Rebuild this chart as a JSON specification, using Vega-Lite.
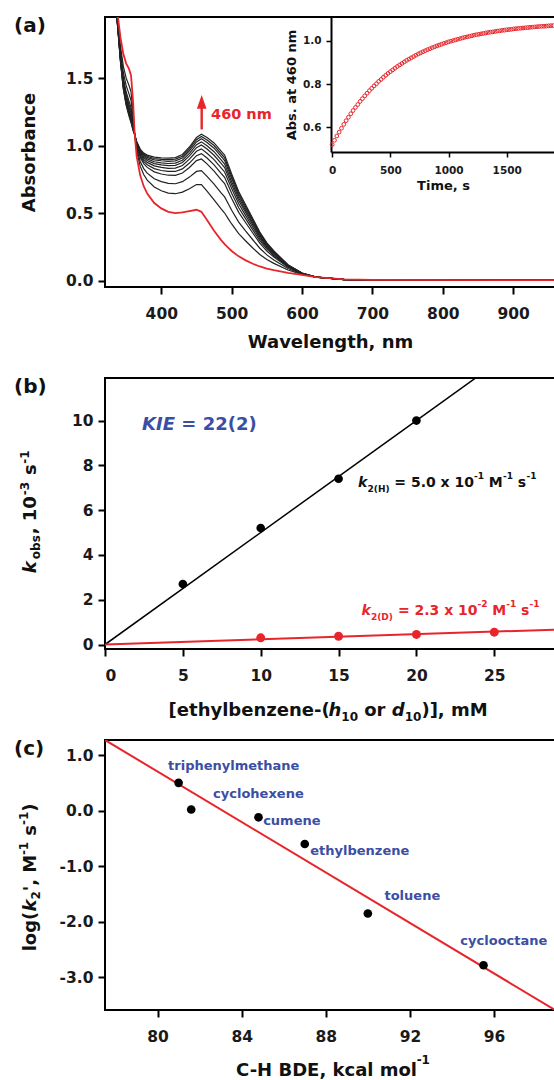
{
"$schema":"https://vega.github.io/schema/vega-lite/v6.json",
"padding":{"left":13,"top":15,"right":0,"bottom":0},
"background":"white",
"config":{
 "font":"DejaVu Sans",
 "view":{"stroke":"#000","strokeWidth":2},
 "axis":{"domain":false,"grid":false,"ticks":true,"tickColor":"#000","tickWidth":2,"tickSize":7,"labelFont":"DejaVu Sans","labelFontWeight":"bold","labelFontSize":15.5,"labelColor":"#1a1a1a","titleFont":"DejaVu Sans","titleFontWeight":"bold","titleFontSize":18,"titleColor":"#111"},
 "axisX":{"labelPadding":12},
 "axisY":{"labelPadding":5},
 "title":{"anchor":"start","frame":"group","orient":"top","baseline":"top","offset":0,"dx":-91,"dy":23,"fontSize":20,"fontWeight":"bold","font":"DejaVu Sans","color":"#111"},
 "text":{"font":"DejaVu Sans","fontWeight":"bold"}
},
"datasets":{
"spectra":[
{"s":"s0","w":334,"a":2.15},{"s":"s0","w":338,"a":1.97},{"s":"s0","w":342,"a":1.80},{"s":"s0","w":346,"a":1.68},{"s":"s0","w":350,"a":1.61},{"s":"s0","w":354,"a":1.57},{"s":"s0","w":357,"a":1.52},{"s":"s0","w":360,"a":1.32},{"s":"s0","w":362,"a":1.10},{"s":"s0","w":365,"a":0.92},{"s":"s0","w":370,"a":0.78},{"s":"s0","w":375,"a":0.70},{"s":"s0","w":380,"a":0.645},{"s":"s0","w":390,"a":0.575},{"s":"s0","w":400,"a":0.535},{"s":"s0","w":410,"a":0.51},{"s":"s0","w":420,"a":0.50},{"s":"s0","w":430,"a":0.505},{"s":"s0","w":440,"a":0.515},{"s":"s0","w":450,"a":0.525},{"s":"s0","w":457,"a":0.51},{"s":"s0","w":465,"a":0.45},{"s":"s0","w":475,"a":0.37},{"s":"s0","w":485,"a":0.30},{"s":"s0","w":490,"a":0.27},{"s":"s0","w":495,"a":0.245},{"s":"s0","w":500,"a":0.22},{"s":"s0","w":510,"a":0.18},{"s":"s0","w":520,"a":0.15},{"s":"s0","w":530,"a":0.125},{"s":"s0","w":540,"a":0.105},{"s":"s0","w":550,"a":0.09},{"s":"s0","w":560,"a":0.078},{"s":"s0","w":580,"a":0.058},{"s":"s0","w":600,"a":0.042},{"s":"s0","w":620,"a":0.026},{"s":"s0","w":660,"a":0.010},{"s":"s0","w":700,"a":0.006},{"s":"s0","w":960,"a":0.004},
{"s":"s1","w":334,"a":2.133},{"s":"s1","w":338,"a":1.939},{"s":"s1","w":342,"a":1.737},{"s":"s1","w":346,"a":1.589},{"s":"s1","w":350,"a":1.502},{"s":"s1","w":354,"a":1.448},{"s":"s1","w":357,"a":1.398},{"s":"s1","w":360,"a":1.247},{"s":"s1","w":362,"a":1.095},{"s":"s1","w":365,"a":0.959},{"s":"s1","w":370,"a":0.848},{"s":"s1","w":375,"a":0.786},{"s":"s1","w":380,"a":0.745},{"s":"s1","w":390,"a":0.694},{"s":"s1","w":400,"a":0.666},{"s":"s1","w":410,"a":0.649},{"s":"s1","w":420,"a":0.644},{"s":"s1","w":430,"a":0.656},{"s":"s1","w":440,"a":0.681},{"s":"s1","w":450,"a":0.712},{"s":"s1","w":457,"a":0.711},{"s":"s1","w":465,"a":0.664},{"s":"s1","w":475,"a":0.598},{"s":"s1","w":485,"a":0.531},{"s":"s1","w":490,"a":0.501},{"s":"s1","w":495,"a":0.460},{"s":"s1","w":500,"a":0.420},{"s":"s1","w":510,"a":0.348},{"s":"s1","w":520,"a":0.294},{"s":"s1","w":530,"a":0.242},{"s":"s1","w":540,"a":0.194},{"s":"s1","w":550,"a":0.157},{"s":"s1","w":560,"a":0.128},{"s":"s1","w":580,"a":0.079},{"s":"s1","w":600,"a":0.047},{"s":"s1","w":620,"a":0.026},{"s":"s1","w":660,"a":0.009},{"s":"s1","w":700,"a":0.005},{"s":"s1","w":960,"a":0.003},
{"s":"s2","w":334,"a":2.124},{"s":"s2","w":338,"a":1.922},{"s":"s2","w":342,"a":1.705},{"s":"s2","w":346,"a":1.542},{"s":"s2","w":350,"a":1.446},{"s":"s2","w":354,"a":1.385},{"s":"s2","w":357,"a":1.335},{"s":"s2","w":360,"a":1.209},{"s":"s2","w":362,"a":1.092},{"s":"s2","w":365,"a":0.978},{"s":"s2","w":370,"a":0.883},{"s":"s2","w":375,"a":0.830},{"s":"s2","w":380,"a":0.796},{"s":"s2","w":390,"a":0.755},{"s":"s2","w":400,"a":0.734},{"s":"s2","w":410,"a":0.721},{"s":"s2","w":420,"a":0.718},{"s":"s2","w":430,"a":0.733},{"s":"s2","w":440,"a":0.767},{"s":"s2","w":450,"a":0.809},{"s":"s2","w":457,"a":0.815},{"s":"s2","w":465,"a":0.773},{"s":"s2","w":475,"a":0.715},{"s":"s2","w":485,"a":0.650},{"s":"s2","w":490,"a":0.620},{"s":"s2","w":495,"a":0.571},{"s":"s2","w":500,"a":0.522},{"s":"s2","w":510,"a":0.434},{"s":"s2","w":520,"a":0.367},{"s":"s2","w":530,"a":0.303},{"s":"s2","w":540,"a":0.240},{"s":"s2","w":550,"a":0.191},{"s":"s2","w":560,"a":0.153},{"s":"s2","w":580,"a":0.090},{"s":"s2","w":600,"a":0.049},{"s":"s2","w":620,"a":0.026},{"s":"s2","w":660,"a":0.009},{"s":"s2","w":700,"a":0.005},{"s":"s2","w":960,"a":0.003},
{"s":"s3","w":334,"a":2.116},{"s":"s3","w":338,"a":1.909},{"s":"s3","w":342,"a":1.678},{"s":"s3","w":346,"a":1.503},{"s":"s3","w":350,"a":1.399},{"s":"s3","w":354,"a":1.332},{"s":"s3","w":357,"a":1.282},{"s":"s3","w":360,"a":1.177},{"s":"s3","w":362,"a":1.090},{"s":"s3","w":365,"a":0.995},{"s":"s3","w":370,"a":0.913},{"s":"s3","w":375,"a":0.867},{"s":"s3","w":380,"a":0.839},{"s":"s3","w":390,"a":0.806},{"s":"s3","w":400,"a":0.790},{"s":"s3","w":410,"a":0.781},{"s":"s3","w":420,"a":0.780},{"s":"s3","w":430,"a":0.797},{"s":"s3","w":440,"a":0.838},{"s":"s3","w":450,"a":0.889},{"s":"s3","w":457,"a":0.901},{"s":"s3","w":465,"a":0.865},{"s":"s3","w":475,"a":0.812},{"s":"s3","w":485,"a":0.749},{"s":"s3","w":490,"a":0.719},{"s":"s3","w":495,"a":0.663},{"s":"s3","w":500,"a":0.608},{"s":"s3","w":510,"a":0.506},{"s":"s3","w":520,"a":0.429},{"s":"s3","w":530,"a":0.353},{"s":"s3","w":540,"a":0.278},{"s":"s3","w":550,"a":0.219},{"s":"s3","w":560,"a":0.175},{"s":"s3","w":580,"a":0.099},{"s":"s3","w":600,"a":0.052},{"s":"s3","w":620,"a":0.026},{"s":"s3","w":660,"a":0.009},{"s":"s3","w":700,"a":0.005},{"s":"s3","w":960,"a":0.003},
{"s":"s4","w":334,"a":2.113},{"s":"s4","w":338,"a":1.903},{"s":"s4","w":342,"a":1.665},{"s":"s4","w":346,"a":1.485},{"s":"s4","w":350,"a":1.378},{"s":"s4","w":354,"a":1.308},{"s":"s4","w":357,"a":1.258},{"s":"s4","w":360,"a":1.163},{"s":"s4","w":362,"a":1.089},{"s":"s4","w":365,"a":1.003},{"s":"s4","w":370,"a":0.926},{"s":"s4","w":375,"a":0.884},{"s":"s4","w":380,"a":0.859},{"s":"s4","w":390,"a":0.830},{"s":"s4","w":400,"a":0.816},{"s":"s4","w":410,"a":0.809},{"s":"s4","w":420,"a":0.809},{"s":"s4","w":430,"a":0.828},{"s":"s4","w":440,"a":0.871},{"s":"s4","w":450,"a":0.926},{"s":"s4","w":457,"a":0.941},{"s":"s4","w":465,"a":0.908},{"s":"s4","w":475,"a":0.858},{"s":"s4","w":485,"a":0.795},{"s":"s4","w":490,"a":0.765},{"s":"s4","w":495,"a":0.706},{"s":"s4","w":500,"a":0.648},{"s":"s4","w":510,"a":0.540},{"s":"s4","w":520,"a":0.458},{"s":"s4","w":530,"a":0.376},{"s":"s4","w":540,"a":0.296},{"s":"s4","w":550,"a":0.233},{"s":"s4","w":560,"a":0.185},{"s":"s4","w":580,"a":0.103},{"s":"s4","w":600,"a":0.053},{"s":"s4","w":620,"a":0.026},{"s":"s4","w":660,"a":0.008},{"s":"s4","w":700,"a":0.005},{"s":"s4","w":960,"a":0.003},
{"s":"s5","w":334,"a":2.110},{"s":"s5","w":338,"a":1.897},{"s":"s5","w":342,"a":1.654},{"s":"s5","w":346,"a":1.469},{"s":"s5","w":350,"a":1.359},{"s":"s5","w":354,"a":1.287},{"s":"s5","w":357,"a":1.237},{"s":"s5","w":360,"a":1.150},{"s":"s5","w":362,"a":1.088},{"s":"s5","w":365,"a":1.009},{"s":"s5","w":370,"a":0.938},{"s":"s5","w":375,"a":0.898},{"s":"s5","w":380,"a":0.876},{"s":"s5","w":390,"a":0.850},{"s":"s5","w":400,"a":0.839},{"s":"s5","w":410,"a":0.832},{"s":"s5","w":420,"a":0.834},{"s":"s5","w":430,"a":0.853},{"s":"s5","w":440,"a":0.900},{"s":"s5","w":450,"a":0.958},{"s":"s5","w":457,"a":0.976},{"s":"s5","w":465,"a":0.944},{"s":"s5","w":475,"a":0.897},{"s":"s5","w":485,"a":0.835},{"s":"s5","w":490,"a":0.805},{"s":"s5","w":495,"a":0.743},{"s":"s5","w":500,"a":0.682},{"s":"s5","w":510,"a":0.569},{"s":"s5","w":520,"a":0.482},{"s":"s5","w":530,"a":0.396},{"s":"s5","w":540,"a":0.312},{"s":"s5","w":550,"a":0.244},{"s":"s5","w":560,"a":0.193},{"s":"s5","w":580,"a":0.107},{"s":"s5","w":600,"a":0.053},{"s":"s5","w":620,"a":0.026},{"s":"s5","w":660,"a":0.008},{"s":"s5","w":700,"a":0.005},{"s":"s5","w":960,"a":0.003},
{"s":"s6","w":334,"a":2.107},{"s":"s6","w":338,"a":1.893},{"s":"s6","w":342,"a":1.645},{"s":"s6","w":346,"a":1.456},{"s":"s6","w":350,"a":1.343},{"s":"s6","w":354,"a":1.269},{"s":"s6","w":357,"a":1.219},{"s":"s6","w":360,"a":1.139},{"s":"s6","w":362,"a":1.087},{"s":"s6","w":365,"a":1.015},{"s":"s6","w":370,"a":0.948},{"s":"s6","w":375,"a":0.911},{"s":"s6","w":380,"a":0.890},{"s":"s6","w":390,"a":0.867},{"s":"s6","w":400,"a":0.858},{"s":"s6","w":410,"a":0.852},{"s":"s6","w":420,"a":0.854},{"s":"s6","w":430,"a":0.875},{"s":"s6","w":440,"a":0.924},{"s":"s6","w":450,"a":0.985},{"s":"s6","w":457,"a":1.005},{"s":"s6","w":465,"a":0.975},{"s":"s6","w":475,"a":0.929},{"s":"s6","w":485,"a":0.868},{"s":"s6","w":490,"a":0.838},{"s":"s6","w":495,"a":0.774},{"s":"s6","w":500,"a":0.710},{"s":"s6","w":510,"a":0.593},{"s":"s6","w":520,"a":0.503},{"s":"s6","w":530,"a":0.413},{"s":"s6","w":540,"a":0.324},{"s":"s6","w":550,"a":0.253},{"s":"s6","w":560,"a":0.200},{"s":"s6","w":580,"a":0.110},{"s":"s6","w":600,"a":0.054},{"s":"s6","w":620,"a":0.026},{"s":"s6","w":660,"a":0.008},{"s":"s6","w":700,"a":0.005},{"s":"s6","w":960,"a":0.003},
{"s":"s7","w":334,"a":2.105},{"s":"s7","w":338,"a":1.889},{"s":"s7","w":342,"a":1.638},{"s":"s7","w":346,"a":1.446},{"s":"s7","w":350,"a":1.331},{"s":"s7","w":354,"a":1.255},{"s":"s7","w":357,"a":1.205},{"s":"s7","w":360,"a":1.131},{"s":"s7","w":362,"a":1.087},{"s":"s7","w":365,"a":1.019},{"s":"s7","w":370,"a":0.956},{"s":"s7","w":375,"a":0.921},{"s":"s7","w":380,"a":0.902},{"s":"s7","w":390,"a":0.881},{"s":"s7","w":400,"a":0.873},{"s":"s7","w":410,"a":0.868},{"s":"s7","w":420,"a":0.871},{"s":"s7","w":430,"a":0.892},{"s":"s7","w":440,"a":0.943},{"s":"s7","w":450,"a":1.007},{"s":"s7","w":457,"a":1.028},{"s":"s7","w":465,"a":0.999},{"s":"s7","w":475,"a":0.955},{"s":"s7","w":485,"a":0.894},{"s":"s7","w":490,"a":0.864},{"s":"s7","w":495,"a":0.799},{"s":"s7","w":500,"a":0.733},{"s":"s7","w":510,"a":0.612},{"s":"s7","w":520,"a":0.519},{"s":"s7","w":530,"a":0.427},{"s":"s7","w":540,"a":0.335},{"s":"s7","w":550,"a":0.261},{"s":"s7","w":560,"a":0.206},{"s":"s7","w":580,"a":0.112},{"s":"s7","w":600,"a":0.055},{"s":"s7","w":620,"a":0.026},{"s":"s7","w":660,"a":0.008},{"s":"s7","w":700,"a":0.005},{"s":"s7","w":960,"a":0.003},
{"s":"s8","w":334,"a":2.103},{"s":"s8","w":338,"a":1.885},{"s":"s8","w":342,"a":1.631},{"s":"s8","w":346,"a":1.436},{"s":"s8","w":350,"a":1.319},{"s":"s8","w":354,"a":1.241},{"s":"s8","w":357,"a":1.191},{"s":"s8","w":360,"a":1.123},{"s":"s8","w":362,"a":1.086},{"s":"s8","w":365,"a":1.023},{"s":"s8","w":370,"a":0.963},{"s":"s8","w":375,"a":0.930},{"s":"s8","w":380,"a":0.913},{"s":"s8","w":390,"a":0.895},{"s":"s8","w":400,"a":0.888},{"s":"s8","w":410,"a":0.884},{"s":"s8","w":420,"a":0.887},{"s":"s8","w":430,"a":0.909},{"s":"s8","w":440,"a":0.962},{"s":"s8","w":450,"a":1.028},{"s":"s8","w":457,"a":1.051},{"s":"s8","w":465,"a":1.023},{"s":"s8","w":475,"a":0.981},{"s":"s8","w":485,"a":0.920},{"s":"s8","w":490,"a":0.890},{"s":"s8","w":495,"a":0.823},{"s":"s8","w":500,"a":0.756},{"s":"s8","w":510,"a":0.631},{"s":"s8","w":520,"a":0.535},{"s":"s8","w":530,"a":0.440},{"s":"s8","w":540,"a":0.345},{"s":"s8","w":550,"a":0.269},{"s":"s8","w":560,"a":0.211},{"s":"s8","w":580,"a":0.114},{"s":"s8","w":600,"a":0.055},{"s":"s8","w":620,"a":0.026},{"s":"s8","w":660,"a":0.008},{"s":"s8","w":700,"a":0.005},{"s":"s8","w":960,"a":0.003},
{"s":"s9","w":334,"a":2.102},{"s":"s9","w":338,"a":1.883},{"s":"s9","w":342,"a":1.625},{"s":"s9","w":346,"a":1.428},{"s":"s9","w":350,"a":1.309},{"s":"s9","w":354,"a":1.231},{"s":"s9","w":357,"a":1.181},{"s":"s9","w":360,"a":1.116},{"s":"s9","w":362,"a":1.085},{"s":"s9","w":365,"a":1.027},{"s":"s9","w":370,"a":0.969},{"s":"s9","w":375,"a":0.938},{"s":"s9","w":380,"a":0.921},{"s":"s9","w":390,"a":0.905},{"s":"s9","w":400,"a":0.899},{"s":"s9","w":410,"a":0.896},{"s":"s9","w":420,"a":0.900},{"s":"s9","w":430,"a":0.922},{"s":"s9","w":440,"a":0.976},{"s":"s9","w":450,"a":1.044},{"s":"s9","w":457,"a":1.068},{"s":"s9","w":465,"a":1.042},{"s":"s9","w":475,"a":1.001},{"s":"s9","w":485,"a":0.940},{"s":"s9","w":490,"a":0.910},{"s":"s9","w":495,"a":0.842},{"s":"s9","w":500,"a":0.773},{"s":"s9","w":510,"a":0.646},{"s":"s9","w":520,"a":0.548},{"s":"s9","w":530,"a":0.450},{"s":"s9","w":540,"a":0.352},{"s":"s9","w":550,"a":0.274},{"s":"s9","w":560,"a":0.216},{"s":"s9","w":580,"a":0.116},{"s":"s9","w":600,"a":0.056},{"s":"s9","w":620,"a":0.026},{"s":"s9","w":660,"a":0.008},{"s":"s9","w":700,"a":0.005},{"s":"s9","w":960,"a":0.003},
{"s":"s10","w":334,"a":2.10},{"s":"s10","w":338,"a":1.88},{"s":"s10","w":342,"a":1.62},{"s":"s10","w":346,"a":1.42},{"s":"s10","w":350,"a":1.30},{"s":"s10","w":354,"a":1.22},{"s":"s10","w":357,"a":1.17},{"s":"s10","w":360,"a":1.11},{"s":"s10","w":362,"a":1.085},{"s":"s10","w":365,"a":1.03},{"s":"s10","w":370,"a":0.975},{"s":"s10","w":375,"a":0.945},{"s":"s10","w":380,"a":0.93},{"s":"s10","w":390,"a":0.915},{"s":"s10","w":400,"a":0.91},{"s":"s10","w":410,"a":0.908},{"s":"s10","w":420,"a":0.912},{"s":"s10","w":430,"a":0.935},{"s":"s10","w":440,"a":0.99},{"s":"s10","w":450,"a":1.06},{"s":"s10","w":457,"a":1.085},{"s":"s10","w":465,"a":1.06},{"s":"s10","w":475,"a":1.02},{"s":"s10","w":485,"a":0.96},{"s":"s10","w":490,"a":0.93},{"s":"s10","w":495,"a":0.86},{"s":"s10","w":500,"a":0.79},{"s":"s10","w":510,"a":0.66},{"s":"s10","w":520,"a":0.56},{"s":"s10","w":530,"a":0.46},{"s":"s10","w":540,"a":0.36},{"s":"s10","w":550,"a":0.28},{"s":"s10","w":560,"a":0.22},{"s":"s10","w":580,"a":0.118},{"s":"s10","w":600,"a":0.056},{"s":"s10","w":620,"a":0.026},{"s":"s10","w":660,"a":0.007},{"s":"s10","w":700,"a":0.004},{"s":"s10","w":960,"a":0.002}
],
"trace":[
{"t":0,"v":0.520},{"t":20,"v":0.540},{"t":40,"v":0.560},{"t":60,"v":0.578},{"t":80,"v":0.596},{"t":100,"v":0.614},{"t":120,"v":0.631},{"t":140,"v":0.647},{"t":160,"v":0.663},{"t":180,"v":0.678},{"t":200,"v":0.692},{"t":220,"v":0.706},{"t":240,"v":0.720},{"t":260,"v":0.733},{"t":280,"v":0.746},{"t":300,"v":0.758},{"t":320,"v":0.770},{"t":340,"v":0.781},{"t":360,"v":0.792},{"t":380,"v":0.802},{"t":400,"v":0.813},{"t":420,"v":0.822},{"t":440,"v":0.832},{"t":460,"v":0.841},{"t":480,"v":0.850},{"t":500,"v":0.858},{"t":520,"v":0.866},{"t":540,"v":0.874},{"t":560,"v":0.882},{"t":580,"v":0.889},{"t":600,"v":0.896},{"t":620,"v":0.903},{"t":640,"v":0.910},{"t":660,"v":0.916},{"t":680,"v":0.922},{"t":700,"v":0.928},{"t":720,"v":0.934},{"t":740,"v":0.940},{"t":760,"v":0.945},{"t":780,"v":0.950},{"t":800,"v":0.955},{"t":820,"v":0.960},{"t":840,"v":0.964},{"t":860,"v":0.969},{"t":880,"v":0.973},{"t":900,"v":0.977},{"t":920,"v":0.981},{"t":940,"v":0.985},{"t":960,"v":0.989},{"t":980,"v":0.992},{"t":1000,"v":0.996},{"t":1020,"v":0.999},{"t":1040,"v":1.002},{"t":1060,"v":1.005},{"t":1080,"v":1.008},{"t":1100,"v":1.011},{"t":1120,"v":1.014},{"t":1140,"v":1.017},{"t":1160,"v":1.019},{"t":1180,"v":1.022},{"t":1200,"v":1.024},{"t":1220,"v":1.027},{"t":1240,"v":1.029},{"t":1260,"v":1.031},{"t":1280,"v":1.033},{"t":1300,"v":1.035},{"t":1320,"v":1.037},{"t":1340,"v":1.039},{"t":1360,"v":1.041},{"t":1380,"v":1.042},{"t":1400,"v":1.044},{"t":1420,"v":1.046},{"t":1440,"v":1.047},{"t":1460,"v":1.049},{"t":1480,"v":1.050},{"t":1500,"v":1.052},{"t":1520,"v":1.053},{"t":1540,"v":1.054},{"t":1560,"v":1.056},{"t":1580,"v":1.057},{"t":1600,"v":1.058},{"t":1620,"v":1.059},{"t":1640,"v":1.060},{"t":1660,"v":1.061},{"t":1680,"v":1.062},{"t":1700,"v":1.063},{"t":1720,"v":1.064},{"t":1740,"v":1.065},{"t":1760,"v":1.066},{"t":1780,"v":1.067},{"t":1800,"v":1.068},{"t":1820,"v":1.068},{"t":1840,"v":1.069},{"t":1860,"v":1.070},{"t":1880,"v":1.071},{"t":1900,"v":1.071}
]
},
"spacing":91,
"bounds":"flush",
"vconcat":[
{
 "width":450,"height":270,
 "title":"(a)",
 "layer":[
  {
   "encoding":{
    "x":{"field":"w","type":"quantitative","scale":{"domain":[320,959.5],"nice":false,"zero":false},"axis":{"values":[400,500,600,700,800,900],"title":"Wavelength, nm","titlePadding":12}},
    "y":{"field":"a","type":"quantitative","scale":{"domain":[-0.047,1.953],"nice":false,"zero":false},"axis":{"values":[0,0.5,1,1.5],"format":".1f","title":"Absorbance","titlePadding":27}}
   },
   "layer":[
    {"data":{"name":"spectra"},"transform":[{"filter":"datum.s != 's0'"}],"mark":{"type":"line","clip":true,"color":"#222222","strokeWidth":1.2},"encoding":{"detail":{"field":"s"}}},
    {"data":{"name":"spectra"},"transform":[{"filter":"datum.s == 's0'"}],"mark":{"type":"line","clip":true,"color":"#e8252b","strokeWidth":1.8},"encoding":{}},
    {"data":{"values":[{"w":457.4,"a":1.12,"a1":1.29}]},"mark":{"type":"rule","color":"#e8252b","strokeWidth":2.4},"encoding":{"y2":{"field":"a1"}}},
    {"data":{"values":[{"w":457.4,"a":1.325}]},"mark":{"type":"point","shape":"M-0.7,1L0,-1L0.7,1Z","filled":true,"color":"#e8252b","size":190,"opacity":1}},
    {"data":{"values":[{"w":470.7,"a":1.20,"t":"460 nm"}]},"mark":{"type":"text","align":"left","baseline":"alphabetic","fontSize":14.5,"color":"#e8252b"},"encoding":{"text":{"field":"t"}}}
   ]
  },
  {
   "data":{"name":"trace"},
   "mark":{"type":"point","filled":false,"color":"#e8252b","size":14,"strokeWidth":1,"opacity":1},
   "encoding":{
    "x":{"field":"t","type":"quantitative","scale":{"domain":[-10,1915],"range":[226,450],"nice":false,"zero":false},"axis":{"orient":"bottom","offset":-135,"values":[0,500,1000,1500],"format":"d","title":"Time, s","domain":true,"domainColor":"#000","domainWidth":2,"tickSize":5,"tickWidth":1.5,"labelFontSize":10.5,"titleFontSize":13,"labelPadding":8,"titlePadding":4}},
    "y":{"field":"v","type":"quantitative","scale":{"domain":[0.486,1.111],"range":[135,0],"nice":false,"zero":false},"axis":{"orient":"left","offset":-226,"values":[0.6,0.8,1.0],"format":".1f","title":"Abs. at 460 nm","domain":true,"domainColor":"#000","domainWidth":2,"tickSize":5,"tickWidth":1.5,"labelFontSize":10.5,"titleFontSize":13,"labelPadding":5,"titlePadding":4}}
   }
  }
 ],
 "resolve":{"scale":{"x":"independent","y":"independent"},"axis":{"x":"independent","y":"independent"}}
},
{
 "width":450,"height":271,
 "title":"(b)",
 "encoding":{
  "x":{"field":"x","type":"quantitative","scale":{"domain":[0,28.9],"nice":false,"zero":false},"axis":{"values":[0,5,10,15,20,25],"title":null}},
  "y":{"field":"y","type":"quantitative","scale":{"domain":[-0.2,11.9],"nice":false,"zero":false},"axis":{"values":[0,2,4,6,8,10],"title":null}}
 },
 "layer":[
  {"data":{"values":[{"x":0,"y":0},{"x":29,"y":14.5}]},"mark":{"type":"line","clip":true,"color":"#000","strokeWidth":1.5},"encoding":{}},
  {"data":{"values":[{"x":0,"y":0},{"x":29,"y":0.667}]},"mark":{"type":"line","clip":true,"color":"#e8252b","strokeWidth":2},"encoding":{}},
  {"data":{"values":[{"x":5,"y":2.7},{"x":10,"y":5.2},{"x":15,"y":7.4},{"x":20,"y":10.0}]},"mark":{"type":"circle","color":"#000","size":75,"opacity":1}},
  {"data":{"values":[{"x":10,"y":0.30},{"x":15,"y":0.37},{"x":20,"y":0.45},{"x":25,"y":0.55}]},"mark":{"type":"circle","color":"#e8252b","size":80,"opacity":1}},
  {"data":{"values":[{"x":2.38,"y":9.60,"t":"KIE"}]},"mark":{"type":"text","align":"left","baseline":"alphabetic","fontSize":18,"fontStyle":"italic","color":"#3b4ea5"},"encoding":{"text":{"field":"t"}}},
  {"data":{"values":[{"x":4.90,"y":9.60,"t":"= 22(2)"}]},"mark":{"type":"text","align":"left","baseline":"alphabetic","fontSize":18,"color":"#3b4ea5"},"encoding":{"text":{"field":"t"}}},
  {"data":{"values":[{"g":"H","x":16.25,"y":7.02,"t":"k"},{"g":"D","x":16.47,"y":1.34,"t":"k"}]},"mark":{"type":"text","align":"left","baseline":"alphabetic","fontSize":14,"fontStyle":"italic"},"encoding":{"text":{"field":"t"},"color":{"field":"g","type":"nominal","scale":{"domain":["H","D"],"range":["#111111","#e8252b"]},"legend":null}}},
  {"data":{"values":[{"g":"H","x":18.58,"y":7.02,"t":"= 5.0 x 10"},{"g":"H","x":24.65,"y":7.02,"t":"M"},{"g":"H","x":26.51,"y":7.02,"t":"s"},{"g":"D","x":18.81,"y":1.34,"t":"= 2.3 x 10"},{"g":"D","x":24.87,"y":1.34,"t":"M"},{"g":"D","x":26.72,"y":1.34,"t":"s"}]},"mark":{"type":"text","align":"left","baseline":"alphabetic","fontSize":14},"encoding":{"text":{"field":"t"},"color":{"field":"g","type":"nominal","scale":{"domain":["H","D"],"range":["#111111","#e8252b"]},"legend":null}}},
  {"data":{"values":[{"g":"H","x":16.86,"y":6.79,"t":"2(H)"},{"g":"H","x":23.70,"y":7.37,"t":"-1"},{"g":"H","x":25.56,"y":7.37,"t":"-1"},{"g":"H","x":27.07,"y":7.37,"t":"-1"},{"g":"D","x":17.08,"y":1.10,"t":"2(D)"},{"g":"D","x":23.92,"y":1.68,"t":"-2"},{"g":"D","x":25.77,"y":1.68,"t":"-1"},{"g":"D","x":27.26,"y":1.68,"t":"-1"}]},"mark":{"type":"text","align":"left","baseline":"alphabetic","fontSize":9},"encoding":{"text":{"field":"t"},"color":{"field":"g","type":"nominal","scale":{"domain":["H","D"],"range":["#111111","#e8252b"]},"legend":null}}},
  {"data":{"values":[{"x":-4.43,"y":3.18,"t":"k"}]},"mark":{"type":"text","align":"left","baseline":"alphabetic","angle":270,"fontSize":18,"fontStyle":"italic","color":"#111"},"encoding":{"text":{"field":"t"}}},
  {"data":{"values":[{"x":-4.43,"y":4.92,"t":", 10"},{"x":-4.43,"y":7.57,"t":"s"}]},"mark":{"type":"text","align":"left","baseline":"alphabetic","angle":270,"fontSize":18,"color":"#111"},"encoding":{"text":{"field":"t"}}},
  {"data":{"values":[{"x":-4.17,"y":3.81,"t":"obs"},{"x":-4.91,"y":6.67,"t":"-3"},{"x":-4.91,"y":8.07,"t":"-1"}]},"mark":{"type":"text","align":"left","baseline":"alphabetic","angle":270,"fontSize":12,"color":"#111"},"encoding":{"text":{"field":"t"}}},
  {"data":{"values":[{"x":4.085,"y":-3.20,"t":"[ethylbenzene-("},{"x":16.65,"y":-3.20,"t":"or"},{"x":20.32,"y":-3.20,"t":")], mM"}]},"mark":{"type":"text","align":"left","baseline":"alphabetic","fontSize":18,"color":"#111"},"encoding":{"text":{"field":"t"}}},
  {"data":{"values":[{"x":14.35,"y":-3.20,"t":"h"},{"x":18.42,"y":-3.20,"t":"d"}]},"mark":{"type":"text","align":"left","baseline":"alphabetic","fontSize":18,"fontStyle":"italic","color":"#111"},"encoding":{"text":{"field":"t"}}},
  {"data":{"values":[{"x":15.18,"y":-3.42,"t":"10"},{"x":19.25,"y":-3.42,"t":"10"}]},"mark":{"type":"text","align":"left","baseline":"alphabetic","fontSize":12,"color":"#111"},"encoding":{"text":{"field":"t"}}}
 ]
},
{
 "width":450,"height":270,
 "title":"(c)",
 "encoding":{
  "x":{"field":"x","type":"quantitative","scale":{"domain":[77.5,98.9],"nice":false,"zero":false},"axis":{"values":[80,84,88,92,96],"title":null}},
  "y":{"field":"y","type":"quantitative","scale":{"domain":[-3.585,1.27],"nice":false,"zero":false},"axis":{"values":[-3,-2,-1,0,1],"labelExpr":"(datum.value < 0 ? '-' : '') + format(abs(datum.value), '.1f')","title":null}}
 },
 "layer":[
  {"data":{"values":[{"x":77.5,"y":1.27},{"x":98.9,"y":-3.585}]},"mark":{"type":"line","clip":true,"color":"#e8252b","strokeWidth":2},"encoding":{}},
  {"data":{"values":[{"x":81.0,"y":0.50},{"x":81.6,"y":0.02},{"x":84.8,"y":-0.12},{"x":87.0,"y":-0.60},{"x":90.0,"y":-1.85},{"x":95.5,"y":-2.78}]},"mark":{"type":"circle","color":"#000","size":75,"opacity":1}},
  {"data":{"values":[{"x":80.50,"y":0.738,"t":"triphenylmethane"},{"x":82.64,"y":0.227,"t":"cyclohexene"},{"x":85.02,"y":-0.264,"t":"cumene"},{"x":87.26,"y":-0.79,"t":"ethylbenzene"},{"x":90.79,"y":-1.60,"t":"toluene"},{"x":94.40,"y":-2.42,"t":"cyclooctane"}]},"mark":{"type":"text","align":"left","baseline":"alphabetic","fontSize":13,"color":"#3b4ea5"},"encoding":{"text":{"field":"t"}}},
  {"data":{"values":[{"x":74.22,"y":-2.53,"t":"log("},{"x":74.22,"y":-1.45,"t":"', M"},{"x":74.22,"y":-0.45,"t":"s"},{"x":74.22,"y":-0.02,"t":")"}]},"mark":{"type":"text","align":"left","baseline":"alphabetic","angle":270,"fontSize":18,"color":"#111"},"encoding":{"text":{"field":"t"}}},
  {"data":{"values":[{"x":74.22,"y":-1.816,"t":"k"}]},"mark":{"type":"text","align":"left","baseline":"alphabetic","angle":270,"fontSize":18,"fontStyle":"italic","color":"#111"},"encoding":{"text":{"field":"t"}}},
  {"data":{"values":[{"x":74.41,"y":-1.60,"t":"2"},{"x":73.86,"y":-0.80,"t":"-1"},{"x":73.86,"y":-0.257,"t":"-1"}]},"mark":{"type":"text","align":"left","baseline":"alphabetic","angle":270,"fontSize":12,"color":"#111"},"encoding":{"text":{"field":"t"}}},
  {"data":{"values":[{"x":83.73,"y":-4.78,"t":"C-H BDE, kcal mol"}]},"mark":{"type":"text","align":"left","baseline":"alphabetic","fontSize":18,"color":"#111"},"encoding":{"text":{"field":"t"}}},
  {"data":{"values":[{"x":92.32,"y":-4.56,"t":"-1"}]},"mark":{"type":"text","align":"left","baseline":"alphabetic","fontSize":12,"color":"#111"},"encoding":{"text":{"field":"t"}}}
 ]
}
]
}
